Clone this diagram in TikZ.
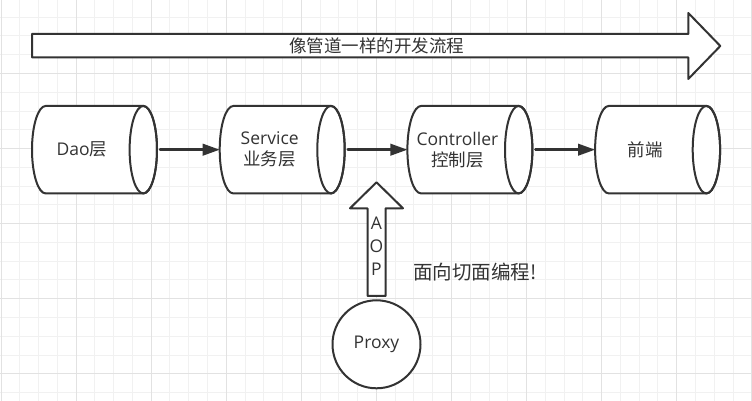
\documentclass[tikz,border=0pt]{standalone}
\usepackage{fontspec}
\setmainfont{Open Sans}
\newfontfamily\cjk{Noto Sans CJK SC}
\usetikzlibrary{calc}
\usetikzlibrary{arrows.meta}

\definecolor{ink}{HTML}{333333}
\definecolor{gridminor}{HTML}{F1F1F1}
\definecolor{gridmajor}{HTML}{E2E2E2}

\begin{document}
\begin{tikzpicture}[
  x=1pt, y=1pt,
  line cap=round,
  line join=round,
  >={Triangle[length=17pt,width=11.5pt]},
  outline/.style={draw=ink, line width=2pt},
  flow/.style={->, draw=ink, line width=2.4pt, shorten <=3pt},
  layer/.style={minimum width=125pt, minimum height=87.5pt, inner sep=0pt, outer sep=0pt},
  every node/.style={text=ink, font=\fontsize{17.5}{21}\selectfont}
]

\useasboundingbox (0,0) rectangle (752,401);
\fill [white] (0,0) rectangle (752,401);

% minor grid first, major on top
\foreach \k in {0,...,40}
  \draw [gridminor, line width=1pt] ({1+18.77*\k},0) -- ({1+18.77*\k},401);
\foreach \k in {1,...,21}
  \draw [gridminor, line width=1pt] (0,{402.6-18.77*\k}) -- (752,{402.6-18.77*\k});
\foreach \k in {0,...,10}
  \draw [gridmajor, line width=1pt] ({1+75.08*\k},0) -- ({1+75.08*\k},401);
\foreach \k in {1,...,5}
  \draw [gridmajor, line width=1pt] (0,{402.6-75.08*\k}) -- (752,{402.6-75.08*\k});

% pipeline arrow
\draw [outline, fill=white] (32,343.5) -- (32,367) -- (688.3,367) -- (688.3,388)
  -- (720.3,355) -- (688.3,322) -- (688.3,343.5) -- cycle;
\node (pipe) at (376.8,355) {\cjk 像管道一样的开发流程};

% the four layers
\foreach \name/\cx/\txt in {dao/94.5/{Dao{\cjk 层}},
                             svc/282.2/{Service\\{\cjk 业务层}},
                             ctl/469.9/{Controller\\{\cjk 控制层}},
                             web/657.6/{\cjk 前端}} {
  \node [layer] (\name) at (\cx,251.3) {};
  \draw [outline, fill=white] ($(\name.north east)+(-13.7,0)$) -- ($(\name.north west)+(13.7,0)$)
    arc[start angle=90, end angle=270, x radius=13.7, y radius=43.75]
    -- ($(\name.south east)+(-13.7,0)$)
    arc[start angle=-90, end angle=90, x radius=13.7, y radius=43.75] -- cycle;
  \draw [outline] ($(\name.east)+(-13.7,0)$) ellipse[x radius=13.7, y radius=43.75];
  \node [align=center] (\name-txt) at ($(\name.center)+(-12.5,0)$) {\txt};
}

\foreach \a/\b in {dao/svc, svc/ctl, ctl/web}
  \draw [flow] (\a.east) -- (\b.west);

% AOP arrow and proxy
\draw [outline, fill=white] (367.5,105) -- (367.5,192.7) -- (350,192.7) -- (376.5,218.7)
  -- (403,192.7) -- (385.5,192.7) -- (385.5,105) -- cycle;
\node [align=center, font=\fontsize{17.5}{23}\selectfont] (aop) at (376.5,155) {A\\O\\P};

\node [circle, outline, fill=white, minimum size=88pt, inner sep=0pt] (proxy) at (376.5,56.7) {Proxy};

\node [anchor=west, inner sep=0pt, font=\fontsize{19.5}{23}\selectfont\cjk] (note) at (413,129.3) {面向切面编程!};

\end{tikzpicture}
\end{document}
